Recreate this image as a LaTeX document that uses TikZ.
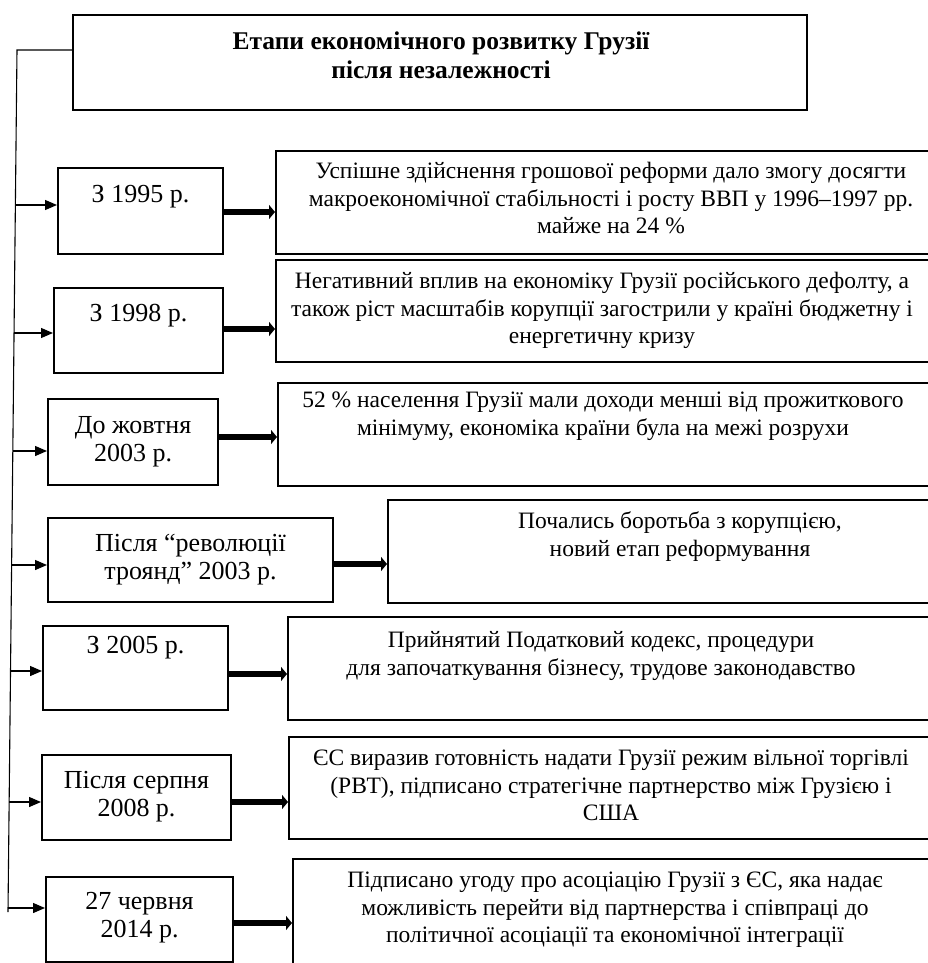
\documentclass[tikz,border=0pt]{standalone}
\usepackage{fontspec}
\setmainfont{Liberation Serif}
\usetikzlibrary{arrows.meta}
\newcommand\rfl{\rule{0pt}{18pt}}
\newcommand\lfl{\rule{0pt}{20pt}}
\begin{document}
\begin{tikzpicture}[x=1pt,y=-1pt,
  box/.style={draw, line width=2pt, inner sep=0pt},
  ltxt/.style={font=\fontsize{26}{28.5}\selectfont, align=center, inner sep=0pt, anchor=north},
  rtxt/.style={font=\fontsize{23.5}{27.3}\selectfont, align=center, inner sep=0pt, anchor=north},
  ttxt/.style={font=\bfseries\fontsize{25.5}{29}\selectfont, align=center, inner sep=0pt, anchor=north},
  thinarr/.style={line width=1.3pt, -{Triangle[length=12pt,width=10pt]}},
  fatarr/.style={line width=6.5pt, -{Triangle[length=6pt,width=14pt]}},
  spine/.style={line width=1.1pt}
]
\useasboundingbox (0,0) rectangle (927,963);

% title
\node[box, minimum width=734pt, minimum height=95pt] (title) at (440,62.5) {};
\node[ttxt] (ttl) at (441,29) {\lfl Етапи економічного розвитку Грузії\\після незалежності};

% spine
\coordinate (s0) at (17,50);
\coordinate (s1) at (8,912);
\draw[spine] (title.west |- s0) -- (s0) -- (s1);

% left boxes
\node[box, minimum width=165pt, minimum height=86pt] (b1) at (140.5,211) {};
\node[box, minimum width=169pt, minimum height=85pt] (b2) at (138.5,330.5) {};
\node[box, minimum width=170pt, minimum height=86pt] (b3) at (133,442) {};
\node[box, minimum width=285pt, minimum height=84pt] (b4) at (190.5,560) {};
\node[box, minimum width=185pt, minimum height=84pt] (b5) at (135.5,668) {};
\node[box, minimum width=189pt, minimum height=85pt] (b6) at (136.5,797.5) {};
\node[box, minimum width=187pt, minimum height=85pt] (b7) at (139.5,919.5) {};

\node[ltxt] (l1) at (b1.center |- 0,182) {\lfl З 1995 р.};
\node[ltxt] (l2) at (b2.center |- 0,301) {\lfl З 1998 р.};
\node[ltxt] (l3) at (b3.center |- 0,413) {\lfl До жовтня\\2003 р.};
\node[ltxt] (l4) at (b4.center |- 0,531) {\lfl Після “революції\\троянд” 2003 р.};
\node[ltxt] (l5) at (b5.center |- 0,633) {\lfl З 2005 р.};
\node[ltxt] (l6) at (b6.center |- 0,768) {\lfl Після серпня\\2008 р.};
\node[ltxt] (l7) at (b7.center |- 0,889) {\lfl 27 червня\\2014 р.};

% right boxes
\node[box, minimum width=670pt, minimum height=103pt] (r1) at (611,202.5) {};
\node[box, minimum width=670pt, minimum height=102pt] (r2) at (611,311) {};
\node[box, minimum width=668pt, minimum height=103pt] (r3) at (612,434.5) {};
\node[box, minimum width=584pt, minimum height=103pt] (r4) at (680,551.5) {};
\node[box, minimum width=658pt, minimum height=103pt] (r5) at (617,668.5) {};
\node[box, minimum width=657pt, minimum height=102pt] (r6) at (617.5,788) {};
\node[box, minimum width=707pt, minimum height=141pt] (r7) at (646.5,929.5) {};

\node[rtxt] (t1) at (611,160.5) {\rfl Успішне здійснення грошової реформи дало змогу досягти\\макроекономічної стабільності і росту ВВП у 1996–1997 рр.\\майже на 24 \%};
\node[rtxt] (t2) at (602,270.5) {\rfl Негативний вплив на економіку Грузії російського дефолту, а\\також ріст масштабів корупції загострили у країні бюджетну і\\енергетичну кризу};
\node[rtxt] (t3) at (603,389.5) {\rfl 52 \% населення Грузії мали доходи менші від прожиткового\\мінімуму, економіка країни була на межі розрухи};
\node[rtxt] (t4) at (680,510.5) {\rfl Почались боротьба з корупцією,\\новий етап реформування};
\node[rtxt] (t5) at (601,629.5) {\rfl Прийнятий Податковий кодекс, процедури\\для започаткування бізнесу, трудове законодавство};
\node[rtxt] (t6) at (611,747.5) {\rfl ЄС виразив готовність надати Грузії режим вільної торгівлі\\(РВТ), підписано стратегічне партнерство між Грузією і\\США};
\node[rtxt] (t7) at (615,869.5) {\rfl Підписано угоду про асоціацію Грузії з ЄС, яка надає\\можливість перейти від партнерства і співпраці до\\політичної асоціації та економічної інтеграції};

% spine arrows
\coordinate (v1) at (15.4,205);
\coordinate (v2) at (14.0,333);
\coordinate (v3) at (12.8,451);
\coordinate (v4) at (11.6,565);
\coordinate (v5) at (10.5,671);
\coordinate (v6) at (9.1,802);
\coordinate (v7) at (8.0,908);
\draw[thinarr] (v1) -- (v1 -| b1.west);
\draw[thinarr] (v2) -- (v2 -| b2.west);
\draw[thinarr] (v3) -- (v3 -| b3.west);
\draw[thinarr] (v4) -- (v4 -| b4.west);
\draw[thinarr] (v5) -- (v5 -| b5.west);
\draw[thinarr] (v6) -- (v6 -| b6.west);
\draw[thinarr] (v7) -- (v7 -| b7.west);

% fat arrows
\coordinate (k1) at (0,212);
\coordinate (k2) at (0,329);
\coordinate (k3) at (0,437);
\coordinate (k4) at (0,564);
\coordinate (k5) at (0,674);
\coordinate (k6) at (0,802);
\coordinate (k7) at (0,923);
\draw[fatarr] (b1.east |- k1) -- (r1.west |- k1);
\draw[fatarr] (b2.east |- k2) -- (r2.west |- k2);
\draw[fatarr] (b3.east |- k3) -- (r3.west |- k3);
\draw[fatarr] (b4.east |- k4) -- (r4.west |- k4);
\draw[fatarr] (b5.east |- k5) -- (r5.west |- k5);
\draw[fatarr] (b6.east |- k6) -- (r6.west |- k6);
\draw[fatarr] (b7.east |- k7) -- (r7.west |- k7);
\end{tikzpicture}
\end{document}
